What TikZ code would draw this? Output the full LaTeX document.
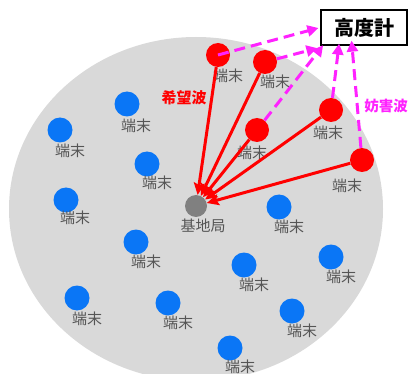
\documentclass[tikz,border=0pt]{standalone}
\usepackage{fontspec}
\newfontfamily\jp{Noto Sans CJK JP}
\usetikzlibrary{arrows.meta}
\definecolor{bgfill}{HTML}{D9D9D9}
\definecolor{tblue}{HTML}{0A76F6}
\definecolor{tred}{HTML}{FF0000}
\definecolor{mag}{HTML}{FF22FF}
\definecolor{bsgray}{HTML}{808080}
\definecolor{lblgray}{HTML}{555555}
\begin{document}
\begin{tikzpicture}[x=1pt,y=-1pt,
  bluedot/.style={circle,fill=tblue,minimum size=25pt,inner sep=0},
  reddot/.style={circle,fill=tred,minimum size=24pt,inner sep=0},
  bsdot/.style={circle,fill=bsgray,minimum size=22pt,inner sep=0},
  tlabel/.style={font=\jp\fontsize{15}{15}\selectfont,text=lblgray,inner sep=0},
  want/.style={draw=tred,line width=3pt,-{Stealth[length=12pt,width=11pt,inset=2pt]}},
  harm/.style={draw=mag,line width=3pt,dash pattern=on 11pt off 6pt,-{Triangle[length=11pt,width=11pt]},shorten >=2pt},
  wavelbl/.style={font=\jp\bfseries\fontsize{15}{15}\selectfont,inner sep=0}]
\useasboundingbox (0,0) rectangle (412,374);
\clip (0,0) rectangle (412,374);
\fill[bgfill] (196,209) ellipse [x radius=187, y radius=172];

% blue terminals
\node[bluedot] (b1) at (127,104) {};
\node[bluedot] (b2) at (60,130) {};
\node[bluedot] (b3) at (147,164) {};
\node[bluedot] (b4) at (66,200) {};
\node[bluedot] (b5) at (136,242) {};
\node[bluedot] (b6) at (279,207) {};
\node[bluedot] (b7) at (244,265) {};
\node[bluedot] (b8) at (331,257) {};
\node[bluedot] (b9) at (77,298) {};
\node[bluedot] (b10) at (168,303) {};
\node[bluedot] (b11) at (292,311) {};
\node[bluedot] (b12) at (230,348) {};
\node[tlabel] (lb1) at (136,126) {端末};
\node[tlabel] (lb2) at (70,151) {端末};
\node[tlabel] (lb3) at (157,183) {端末};
\node[tlabel] (lb4) at (75,218) {端末};
\node[tlabel] (lb5) at (146,262) {端末};
\node[tlabel] (lb6) at (289,227) {端末};
\node[tlabel] (lb7) at (254,285) {端末};
\node[tlabel] (lb8) at (341,277) {端末};
\node[tlabel] (lb9) at (87,319) {端末};
\node[tlabel] (lb10) at (178,323) {端末};
\node[tlabel] (lb11) at (302,331) {端末};
\node[tlabel] (lb12) at (240,367) {端末};

% base station
\node[bsdot] (bs) at (196,206) {};
\node[tlabel] (lbs) at (203,226) {基地局};

% red terminals
\node[reddot] (r1) at (218,55) {};
\node[reddot] (r2) at (265,62) {};
\node[reddot] (r3) at (257,130) {};
\node[reddot] (r4) at (331,110) {};
\node[reddot] (r5) at (362,160) {};
\node[tlabel] (lr1) at (228,76) {端末};
\node[tlabel] (lr2) at (275,82) {端末};
\node[tlabel] (lr3) at (252,153) {端末};
\node[tlabel] (lr4) at (328,133) {端末};
\node[tlabel] (lr5) at (347,186) {端末};

% altimeter
\node[draw=black,line width=1.3pt,fill=white,minimum width=86pt,minimum height=35pt,inner sep=0,
  font=\jp\bfseries\fontsize{20}{20}\selectfont] (alt) at (364,27.5) {高度計};

% desired waves
\draw[want] (r1) -- (bs);
\draw[want] (r2) -- (bs);
\draw[want] (r3) -- (bs);
\draw[want] (r4) -- (bs);
\draw[want] (r5) -- (bs);

% interference waves
\draw[harm] (r1.center) -- (alt.west);
\draw[harm] (r2) -- ([xshift=-1pt,yshift=-2pt]alt.south west);
\draw[harm] (r3) -- ([xshift=4pt,yshift=2pt]alt.south west);
\draw[harm] (r4) -- ([xshift=19pt,yshift=4pt]alt.south west);
\draw[harm] (r5) -- ([xshift=31pt,yshift=7pt]alt.south west);

\node[wavelbl,text=tred] (wl) at (184,98) {希望波};
\node[wavelbl,text=mag,font=\jp\bfseries\fontsize{14.5}{14.5}\selectfont] (hl) at (386,106) {妨害波};
\end{tikzpicture}
\end{document}
